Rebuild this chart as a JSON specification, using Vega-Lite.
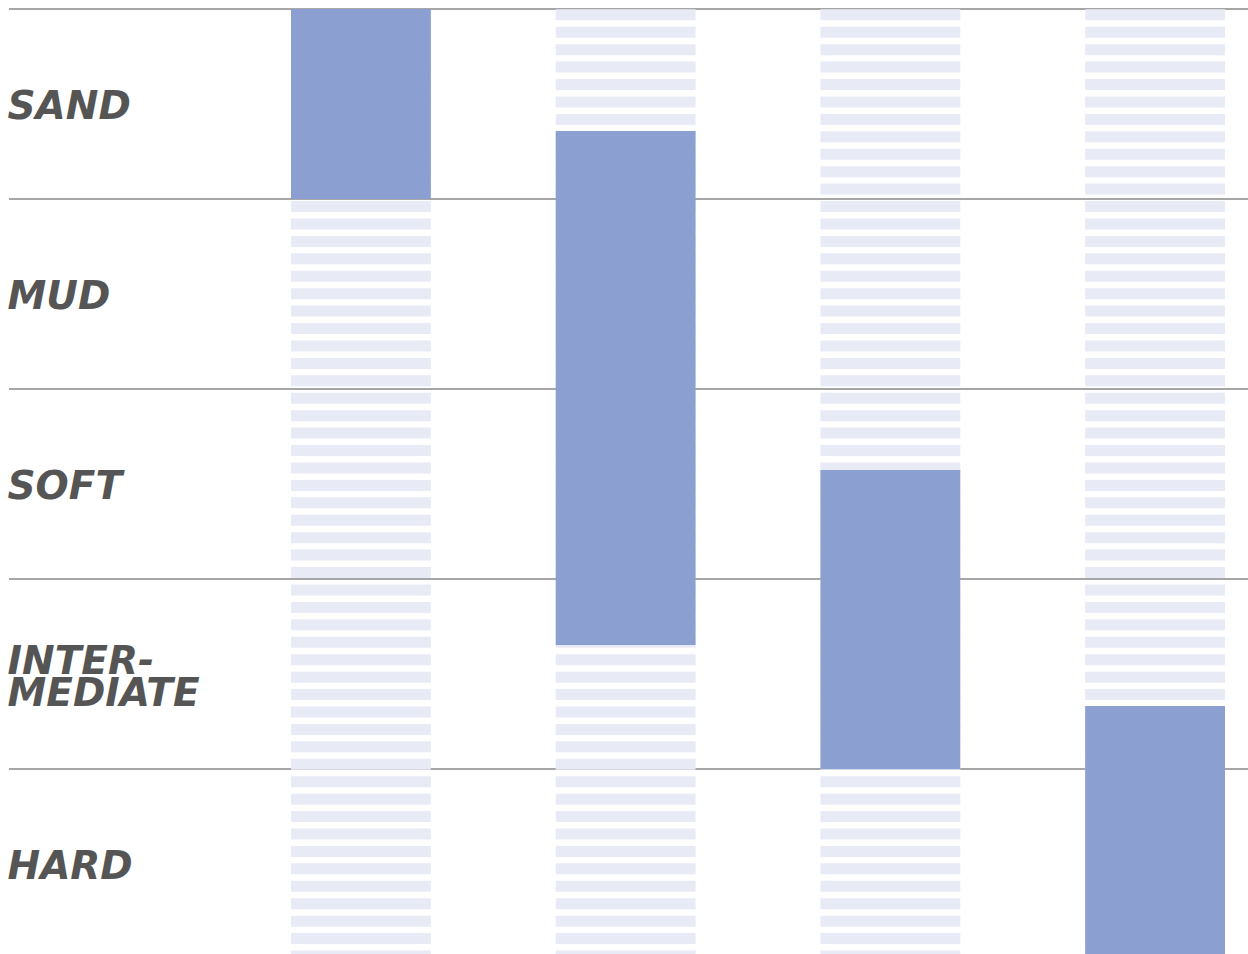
{
  "$schema": "https://vega.github.io/schema/vega-lite/v6.json",
  "autosize": "none",
  "width": 1239,
  "height": 945,
  "padding": {"left": 9, "top": 9, "right": 0, "bottom": 0},
  "background": "white",
  "config": {"view": {"stroke": null}},
  "datasets": {
    "terrain": [
      {"terrain": "SAND"},
      {"terrain": "MUD"},
      {"terrain": "SOFT"},
      {"terrain": "INTER-\nMEDIATE"},
      {"terrain": "HARD"}
    ],
    "stripes": [
      {"col": "A", "k": [0,1,2,3,4,5,6,7,8,9,10,11,12,13,14,15,16,17,18,19,20,21,22,23,24,25,26,27,28,29,30,31,32,33,34,35,36,37,38,39,40,41,42,43,44,45,46,47,48,49,50,51,52,53,54]},
      {"col": "B", "k": [0,1,2,3,4,5,6,7,8,9,10,11,12,13,14,15,16,17,18,19,20,21,22,23,24,25,26,27,28,29,30,31,32,33,34,35,36,37,38,39,40,41,42,43,44,45,46,47,48,49,50,51,52,53,54]},
      {"col": "C", "k": [0,1,2,3,4,5,6,7,8,9,10,11,12,13,14,15,16,17,18,19,20,21,22,23,24,25,26,27,28,29,30,31,32,33,34,35,36,37,38,39,40,41,42,43,44,45,46,47,48,49,50,51,52,53,54]},
      {"col": "D", "k": [0,1,2,3,4,5,6,7,8,9,10,11,12,13,14,15,16,17,18,19,20,21,22,23,24,25,26,27,28,29,30,31,32,33,34,35,36,37,38,39,40,41,42,43,44,45,46,47,48,49,50,51,52,53,54]}
    ],
    "bars": [
      {"col": "A", "from": 0, "to": 1},
      {"col": "B", "from": 0.642, "to": 3.347},
      {"col": "C", "from": 2.426, "to": 4.0},
      {"col": "D", "from": 3.668, "to": 5}
    ]
  },
  "layer": [
    {
      "data": {"name": "terrain"},
      "mark": {"type": "rule", "color": "#888888", "strokeWidth": 1.5},
      "encoding": {
        "y": {
          "field": "terrain",
          "type": "nominal",
          "sort": null,
          "bandPosition": 0,
          "scale": {"type": "band", "range": [0, 950], "paddingInner": 0, "paddingOuter": 0},
          "axis": {
            "title": null,
            "domain": false,
            "ticks": false,
            "tickSize": 0,
            "grid": false,
            "labelAlign": "left",
            "labelBaseline": "middle",
            "labelPadding": 2,
            "labelOffset": {"condition": {"test": "indexof(datum.label, '\\n') >= 0", "value": -12}, "value": 3},
            "labelFont": "DejaVu Sans",
            "labelFontSize": 39,
            "labelFontWeight": "bold",
            "labelFontStyle": "italic",
            "labelColor": "#555555",
            "labelLimit": 0,
            "labelLineHeight": 32,
            "labelOverlap": false,
            "labelExpr": "split(datum.label, '\\n')"
          }
        }
      }
    },
    {
      "data": {"name": "stripes"},
      "transform": [{"flatten": ["k"]}],
      "mark": {"type": "rect", "color": "#e8eaf6"},
      "encoding": {
        "x": {
          "field": "col",
          "type": "nominal",
          "scale": {"type": "band", "domain": ["A", "B", "C", "D"], "range": [282, 1216], "paddingInner": 0.4717, "paddingOuter": 0},
          "axis": null
        },
        "y": {
          "field": "k",
          "type": "ordinal",
          "scale": {"type": "band", "range": [0.3, 952.5], "paddingInner": 0.369, "paddingOuter": 0},
          "axis": null
        }
      }
    },
    {
      "data": {"name": "bars"},
      "mark": {"type": "rect", "color": "#8c9fd1"},
      "encoding": {
        "x": {
          "field": "col",
          "type": "nominal",
          "scale": {"type": "band", "domain": ["A", "B", "C", "D"], "range": [282, 1216], "paddingInner": 0.4717, "paddingOuter": 0},
          "axis": null
        },
        "y": {
          "field": "from",
          "type": "quantitative",
          "scale": {"domain": [0, 5], "range": [0, 950], "nice": false, "zero": false},
          "axis": null
        },
        "y2": {"field": "to"}
      }
    }
  ],
  "resolve": {"scale": {"y": "independent"}, "axis": {"y": "independent"}}
}
